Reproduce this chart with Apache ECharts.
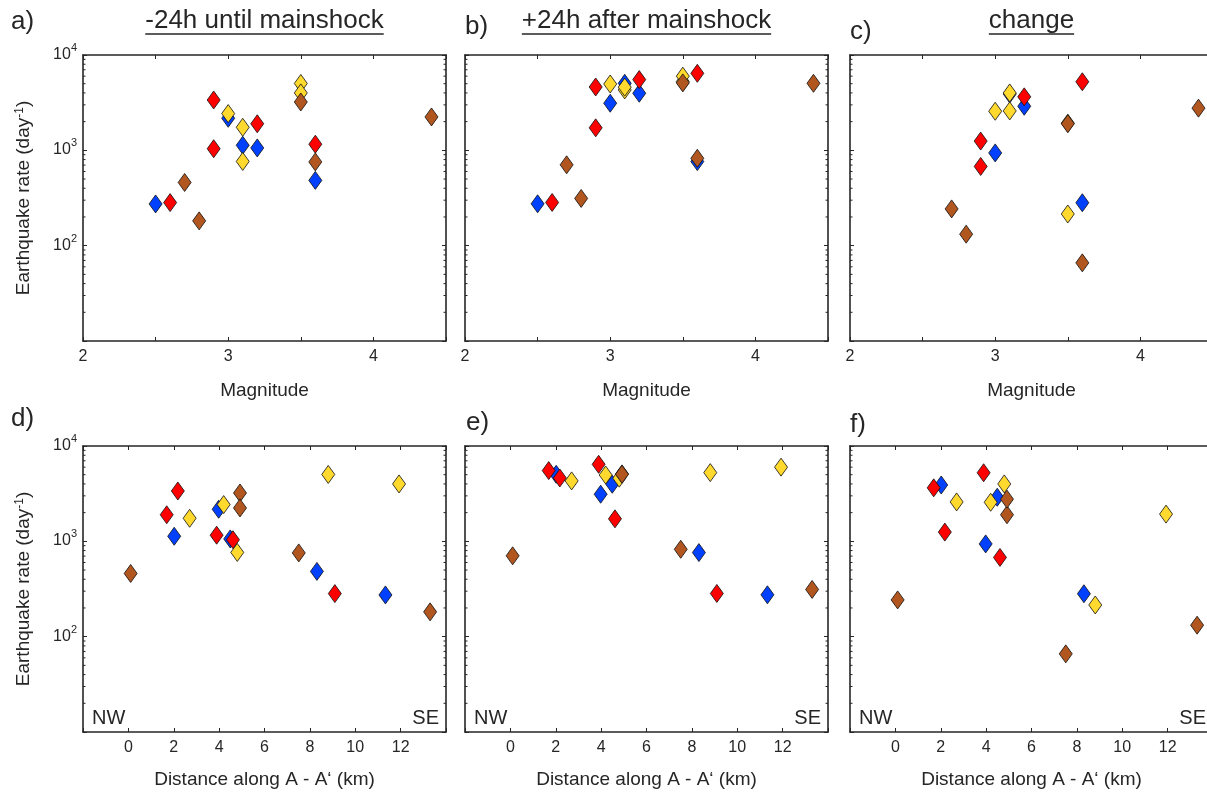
<!DOCTYPE html>
<html><head><meta charset="utf-8">
<script src="https://cdn.jsdelivr.net/npm/echarts@6/dist/echarts.min.js"></script>
<style>html,body{margin:0;padding:0;background:#fff}#chart{width:1207px;height:792px}</style>
</head><body><div id="chart"></div>
<script>
// ---------------- data ----------------
const panelTitles = ['-24h until mainshock', '+24h after mainshock', 'change'];
const panelLetters = ['a)', 'b)', 'c)', 'd)', 'e)', 'f)'];
const magnitudeTickLabels = [2, 3, 4];
const distanceTickLabels = [0, 2, 4, 6, 8, 10, 12];
const rateTickLabels = [100, 1000, 10000];

const blueMag    = [2.5, 3.0, 3.1, 3.2, 3.6];
const blueDist   = [11.33, 3.98, 2.02, 4.49, 8.31];
const blueBefore = [274, 2170, 1130, 1060, 484];
const blueAfter  = [275, 3120, 5045, 3970, 762];
const blueChange = [null, 940, 3900, 2900, 282];

const redMag     = [2.6, 2.9, 2.9, 3.2, 3.6];
const redDist    = [9.10, 2.18, 4.61, 1.69, 3.89];
const redBefore  = [283, 3375, 1040, 1900, 1160];
const redAfter   = [284, 4620, 1722, 5520, 6425];
const redChange  = [null, 1250, 678, 3640, 5240];

const yellowMag    = [3.0, 3.1, 3.1, 3.5, 3.5];
const yellowDist   = [4.20, 2.70, 4.80, 8.81, 11.93];
const yellowBefore = [2430, 1745, 765, 5030, 4000];
const yellowAfter  = [4965, 4305, 4600, 5260, 6000];
const yellowChange = [2570, 2590, 4000, 215, 1930];

const brownMag    = [2.7, 2.8, 3.5, 3.6, 4.4];
const brownDist   = [0.10, 13.30, 4.92, 7.51, 4.92];
const brownBefore = [460, 182, 3215, 756, 2240];
const brownAfter  = [705, 313, 5100, 825, 5045];
const brownChange = [243, 132, 1900, 66, 2770];

// ---------------- styling / layout ----------------
const FONT = "'Liberation Sans', Arial, Helvetica, sans-serif";
const INK = '#262626';
const LW = 1.6;
const panelLefts = [83, 465, 850];
const rowTops = [55, 446];
const PW = 363, PH = 286;

const groups = [
  {color: '#0040ff', x: [blueMag, blueDist],   y: [blueBefore, blueAfter, blueChange]},
  {color: '#ff0000', x: [redMag, redDist],     y: [redBefore, redAfter, redChange]},
  {color: '#ffd92e', x: [yellowMag, yellowDist], y: [yellowBefore, yellowAfter, yellowChange]},
  {color: '#b2561f', x: [brownMag, brownDist], y: [brownBefore, brownAfter, brownChange]}
];

// minor tick values of the log axis (2..9 x each decade)
const minorVals = [];
[10, 100, 1000].forEach(d => { for (let k = 2; k <= 9; k++) minorVals.push(k * d); });

const grids = [], xAxes = [], yAxes = [], series = [];

function minorTickItem(params, api) {
  const cs = params.coordSys;
  const y = api.coord([api.value(0), api.value(1)])[1];
  const st = {stroke: INK, lineWidth: 1};
  return {type: 'group', children: [
    {type: 'line', shape: {x1: cs.x, y1: y, x2: cs.x + 2.5, y2: y}, style: st},
    {type: 'line', shape: {x1: cs.x + cs.width - 2.5, y1: y, x2: cs.x + cs.width, y2: y}, style: st}
  ]};
}

const rateLabelRich = {
  b: {fontSize: 16, fontFamily: FONT, color: INK, lineHeight: 20, verticalAlign: 'bottom'},
  s: {fontSize: 11, fontFamily: FONT, color: INK, lineHeight: 11, verticalAlign: 'top'}
};

for (let i = 0; i < 6; i++) {
  const row = Math.floor(i / 3), col = i % 3;
  const left = panelLefts[col], top = rowTops[row];
  grids.push({left: left, top: top, width: PW, height: PH, containLabel: false, outerBoundsMode: 'none'});
  const xMin = row ? -2 : 2, xMax = row ? 14 : 4.5, xInt = row ? 2 : 0.5;
  const xLabels = row ? distanceTickLabels : magnitudeTickLabels;
  const axisLine = {show: true, onZero: false, lineStyle: {color: INK, width: LW}};
  const axisTick = {show: true, inside: true, length: 4, lineStyle: {color: INK, width: 1}};
  xAxes.push({
    type: 'value', gridIndex: i, position: 'bottom', min: xMin, max: xMax, interval: xInt,
    axisLine: axisLine, axisTick: axisTick, splitLine: {show: false},
    axisLabel: {show: true, margin: 8, color: INK, fontSize: 16, fontFamily: FONT,
      showMinLabel: true, showMaxLabel: true,
      formatter: v => xLabels.includes(v) ? String(v) : ''},
    name: row ? 'Distance along A - A\u2018 (km)' : 'Magnitude',
    nameLocation: 'middle', nameGap: row ? 38 : 40,
    nameTextStyle: {fontSize: 19, fontFamily: FONT, color: INK}
  });
  xAxes.push({
    type: 'value', gridIndex: i, position: 'top', min: xMin, max: xMax, interval: xInt,
    axisLine: axisLine, axisTick: axisTick, splitLine: {show: false}, axisLabel: {show: false}
  });
  yAxes.push({
    type: 'log', logBase: 10, gridIndex: i, position: 'left', min: 10, max: 10000,
    axisLine: axisLine, axisTick: axisTick, splitLine: {show: false}, minorTick: {show: false},
    axisLabel: {show: col === 0, margin: 6, padding: [0, 0, 5, 0],
      formatter: v => rateTickLabels.includes(Math.round(v)) ? '{b|10}{s|' + Math.round(Math.log10(v)) + '}' : '',
      rich: rateLabelRich},
    name: col === 0 ? 'Earthquake rate (day{s|-1})' : '',
    nameLocation: 'middle', nameGap: 50, nameRotate: 90,
    nameTextStyle: {fontSize: 19, fontFamily: FONT, color: INK,
      rich: {s: {fontSize: 12, fontFamily: FONT, color: INK, verticalAlign: 'top'}}}
  });
  yAxes.push({
    type: 'log', logBase: 10, gridIndex: i, position: 'right', min: 10, max: 10000,
    axisLine: axisLine, axisTick: axisTick, splitLine: {show: false}, axisLabel: {show: false}
  });
  groups.forEach(g => {
    const xs = g.x[row], ys = g.y[col];
    const data = [];
    xs.forEach((xv, k) => { if (ys[k] != null) data.push([xv, ys[k]]); });
    series.push({
      type: 'scatter', xAxisIndex: 2 * i, yAxisIndex: 2 * i, symbol: 'diamond', symbolSize: [13, 18],
      itemStyle: {color: g.color, borderColor: '#111', borderWidth: 0.8, opacity: 1},
      emphasis: {disabled: true}, data: data
    });
  });
  series.push({
    type: 'custom', xAxisIndex: 2 * i, yAxisIndex: 2 * i, silent: true, z: 1,
    renderItem: minorTickItem, data: minorVals.map(v => [xMin, v])
  });
}

// ---------------- text graphics ----------------
const measureCtx = document.createElement('canvas').getContext('2d');
measureCtx.font = "26px 'Liberation Sans'";
const graphics = [];
panelTitles.forEach((t, k) => {
  const cx = panelLefts[k] + PW / 2;
  const w = measureCtx.measureText(t).width;
  graphics.push({type: 'text', x: cx, y: 21, style: {text: t, fontSize: 26, fontFamily: FONT, fill: INK, align: 'center', verticalAlign: 'middle'}});
  graphics.push({type: 'line', shape: {x1: cx - w / 2, y1: 34, x2: cx + w / 2, y2: 34}, style: {stroke: INK, lineWidth: 1.5}});
});
const letterPos = [[11, 22], [465, 27], [850, 32], [11, 419], [466, 423], [850, 425]];
panelLetters.forEach((t, k) => {
  graphics.push({type: 'text', x: letterPos[k][0], y: letterPos[k][1], style: {text: t, fontSize: 26, fontFamily: FONT, fill: INK, align: 'left', verticalAlign: 'middle'}});
});
panelLefts.forEach(l => {
  graphics.push({type: 'text', x: l + 9, y: 718, style: {text: 'NW', fontSize: 20, fontFamily: FONT, fill: INK, align: 'left', verticalAlign: 'middle'}});
  graphics.push({type: 'text', x: l + PW - 7, y: 718, style: {text: 'SE', fontSize: 20, fontFamily: FONT, fill: INK, align: 'right', verticalAlign: 'middle'}});
});

const chart = echarts.init(document.getElementById('chart'), null, {renderer: 'canvas'});
chart.setOption({
  animation: false,
  backgroundColor: '#ffffff',
  textStyle: {fontFamily: FONT},
  grid: grids, xAxis: xAxes, yAxis: yAxes, series: series, graphic: graphics
});
</script></body></html>
